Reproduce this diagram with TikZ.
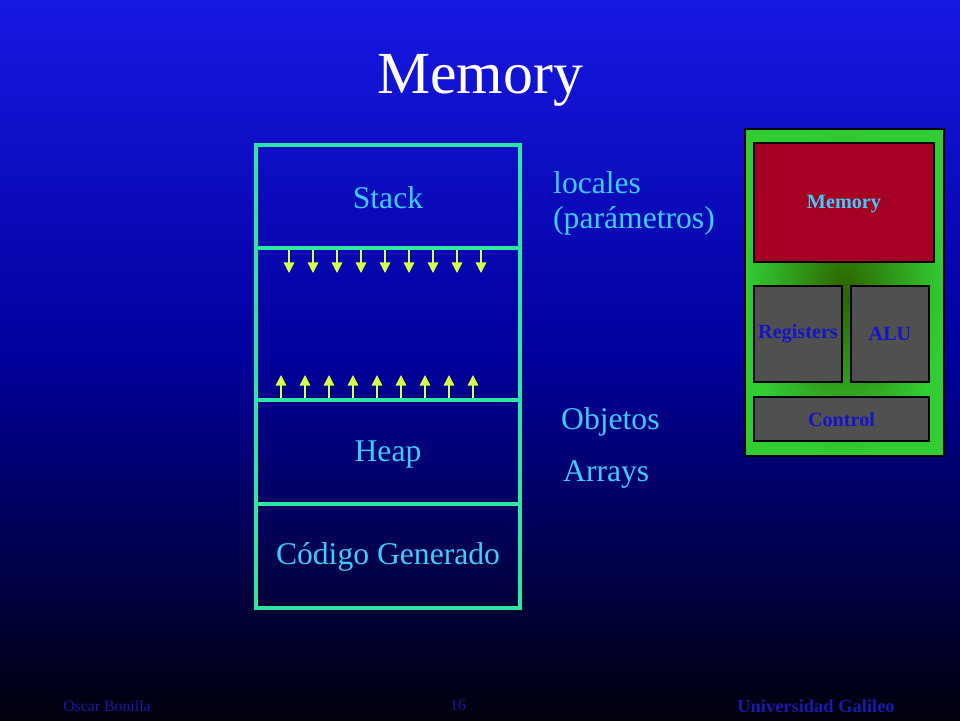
\documentclass[tikz,border=0pt]{standalone}
\usepackage{fontspec}
\setmainfont{Liberation Serif}
\usetikzlibrary{arrows.meta}
\definecolor{bgtop}{RGB}{24,24,228}
\definecolor{bgmid}{RGB}{0,0,155}
\definecolor{bgbot}{RGB}{0,0,12}
\definecolor{memline}{RGB}{45,230,160}
\definecolor{txtcyan}{RGB}{60,205,255}
\definecolor{arrowy}{RGB}{215,255,70}
\definecolor{panelgreen}{RGB}{50,205,50}
\definecolor{paneldark}{RGB}{45,100,0}
\definecolor{memred}{RGB}{165,0,35}
\definecolor{boxgray}{RGB}{80,80,80}
\definecolor{boxtxt}{RGB}{20,20,200}
\definecolor{foot}{RGB}{25,25,170}
\begin{document}
\begin{tikzpicture}[x=0.02cm,y=-0.02cm,
  seg/.style={draw=memline,line width=2.2pt},
  segtext/.style={text=txtcyan,font=\fontsize{18}{21}\selectfont},
  sidetext/.style={text=txtcyan,font=\fontsize{18}{21}\selectfont,anchor=west},
  growarrow/.style={draw=arrowy,line width=0.8pt,-{Triangle[length=6pt,width=6pt]}},
  cpubox/.style={draw=black,line width=0.6pt,fill=boxgray},
  cputext/.style={font=\bfseries\fontsize{11.5}{13}\selectfont,text=boxtxt},
  foottext/.style={text=foot,font=\fontsize{9}{10}\selectfont}]
\useasboundingbox (0,0) rectangle (960,720);
\shade[top color=bgtop,bottom color=bgbot,middle color=bgmid] (0,0) rectangle (960,720);
% title
\node[text=white,font=\fontsize{34}{40}\selectfont] (title) at (480,80) {Memory};
% memory layout
\node[seg,minimum width=264*0.02cm,minimum height=103*0.02cm,inner sep=0pt] (stack) at (388,196.5) {};
\node[segtext] (stackt) at (388,198) {Stack};
\node[seg,minimum width=264*0.02cm,minimum height=152*0.02cm,inner sep=0pt] (free) at (388,324) {};
\node[seg,minimum width=264*0.02cm,minimum height=104*0.02cm,inner sep=0pt] (heap) at (388,452) {};
\node[segtext] (heapt) at (388,455) {Heap};
\node[seg,minimum width=264*0.02cm,minimum height=104*0.02cm,inner sep=0pt] (code) at (388,556) {};
\node[segtext] (codet) at (388,557) {Código Generado};
% arrows
\foreach \i in {0,...,8}{
  \coordinate (d\i s) at (289+24*\i,250);
  \coordinate (d\i e) at (289+24*\i,273);
  \draw[growarrow] (d\i s) -- (d\i e);
  \coordinate (u\i s) at (281+24*\i,398);
  \coordinate (u\i e) at (281+24*\i,375);
  \draw[growarrow] (u\i s) -- (u\i e);
}
% side labels
\node[sidetext] (loc) at (547,183) {locales};
\node[sidetext] (par) at (547,221) {(parámetros)};
\node[sidetext] (obj) at (555,422) {Objetos};
\node[sidetext] (arr) at (557,474) {Arrays};
% cpu panel
\shade[inner color=paneldark,outer color=panelgreen,draw=black,line width=0.6pt] (745,129) rectangle (944,456);
\node[cpubox,fill=memred,minimum width=180*0.02cm,minimum height=119*0.02cm,inner sep=0pt] (mem) at (844,202.5) {};
\node[cputext,text=txtcyan] (memt) at (844,204) {Memory};
\node[cpubox,minimum width=88*0.02cm,minimum height=96*0.02cm,inner sep=0pt] (reg) at (798,334) {};
\node[cputext] (regt) at (798,334) {Registers};
\node[cpubox,minimum width=78*0.02cm,minimum height=96*0.02cm,inner sep=0pt] (alu) at (890,334) {};
\node[cputext] (alut) at (890,334) {ALU};
\node[cpubox,minimum width=175*0.02cm,minimum height=44*0.02cm,inner sep=0pt] (ctl) at (841.5,419) {};
\node[cputext] (ctlt) at (841.5,420) {Control};
% footer
\node[foottext] (f1) at (107,706) {Oscar Bonilla};
\node[foottext] (f2) at (458,705) {16};
\node[foottext,font=\bfseries\fontsize{10.5}{12}\selectfont] (f3) at (816,706) {Universidad Galileo};
\end{tikzpicture}
\end{document}
